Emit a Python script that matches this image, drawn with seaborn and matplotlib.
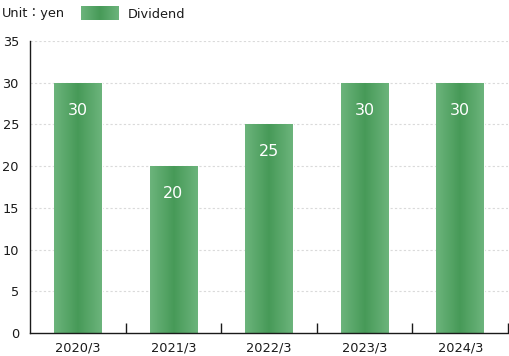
import numpy as np
import pandas as pd
import matplotlib
matplotlib.use("Agg")
import matplotlib.pyplot as plt
import seaborn as sns
from matplotlib.colors import LinearSegmentedColormap

years = ["2020/3", "2021/3", "2022/3", "2023/3", "2024/3"]
dividend = [30, 20, 25, 30, 30]
y_ticks = [0, 5, 10, 15, 20, 25, 30, 35]

color_edge = "#6cb47c"
color_mid = "#479a58"
color_text = "#1a1a1a"

sns.set_theme(style="white")
plt.rcParams["font.family"] = ["DejaVu Sans", "Noto Sans CJK JP"]

df = pd.DataFrame({"year": years, "dividend": dividend})

fig = plt.figure(figsize=(5.09, 3.56), dpi=100)
ax = fig.add_axes([30 / 509, 23 / 356, 478 / 509, 292 / 356])

sns.barplot(data=df, x="year", y="dividend", color=color_mid, width=0.5,
            saturation=1, ax=ax)

# horizontal gradient, lighter at the sides and darker in the middle
cmap = LinearSegmentedColormap.from_list("bar", [color_edge, color_mid, color_edge])
grad = np.linspace(0, 1, 256).reshape(1, -1)
for bar in ax.patches:
    x0, y0 = bar.get_x(), bar.get_y()
    w, h = bar.get_width(), bar.get_height()
    img = ax.imshow(grad, cmap=cmap, aspect="auto", extent=[x0, x0 + w, y0, y0 + h],
                    zorder=bar.get_zorder() + 0.1)
    img.set_clip_path(bar)
    ax.text(x0 + w / 2, h - 3.3, f"{h:.0f}", ha="center", va="center",
            color="white", fontsize=11.5, zorder=5)

ax.set_xlim(-0.5, 4.5)
ax.set_ylim(0, 35)
ax.set_yticks(y_ticks)
ax.set_xlabel("")
ax.set_ylabel("")
for yv in y_ticks[1:]:
    ax.axhline(yv, color="#dadada", lw=0.8, ls=(0, (2, 2)), zorder=0)

ax.tick_params(axis="x", which="major", length=0, labelsize=9.3, colors=color_text, pad=6)
ax.tick_params(axis="y", which="major", length=0, labelsize=9.3, colors=color_text, pad=8)
ax.set_xticks(np.arange(0.5, 5, 1), minor=True)
ax.tick_params(axis="x", which="minor", bottom=True, direction="in", length=7,
               width=1, color=color_text)

for side in ["top", "right"]:
    ax.spines[side].set_visible(False)
for side in ["left", "bottom"]:
    ax.spines[side].set_color(color_text)
    ax.spines[side].set_linewidth(1)

# legend
fig.text(2 / 509, 1 - 14 / 356, "Unit：yen", fontsize=9.3, color=color_text, va="center")
lax = fig.add_axes([81 / 509, 1 - 20 / 356, 38 / 509, 14 / 356])
lax.imshow(grad, cmap=cmap, aspect="auto")
lax.axis("off")
fig.text(128 / 509, 1 - 14 / 356, "Dividend", fontsize=9.3, color=color_text, va="center")

fig.savefig("out.png", dpi=100)
